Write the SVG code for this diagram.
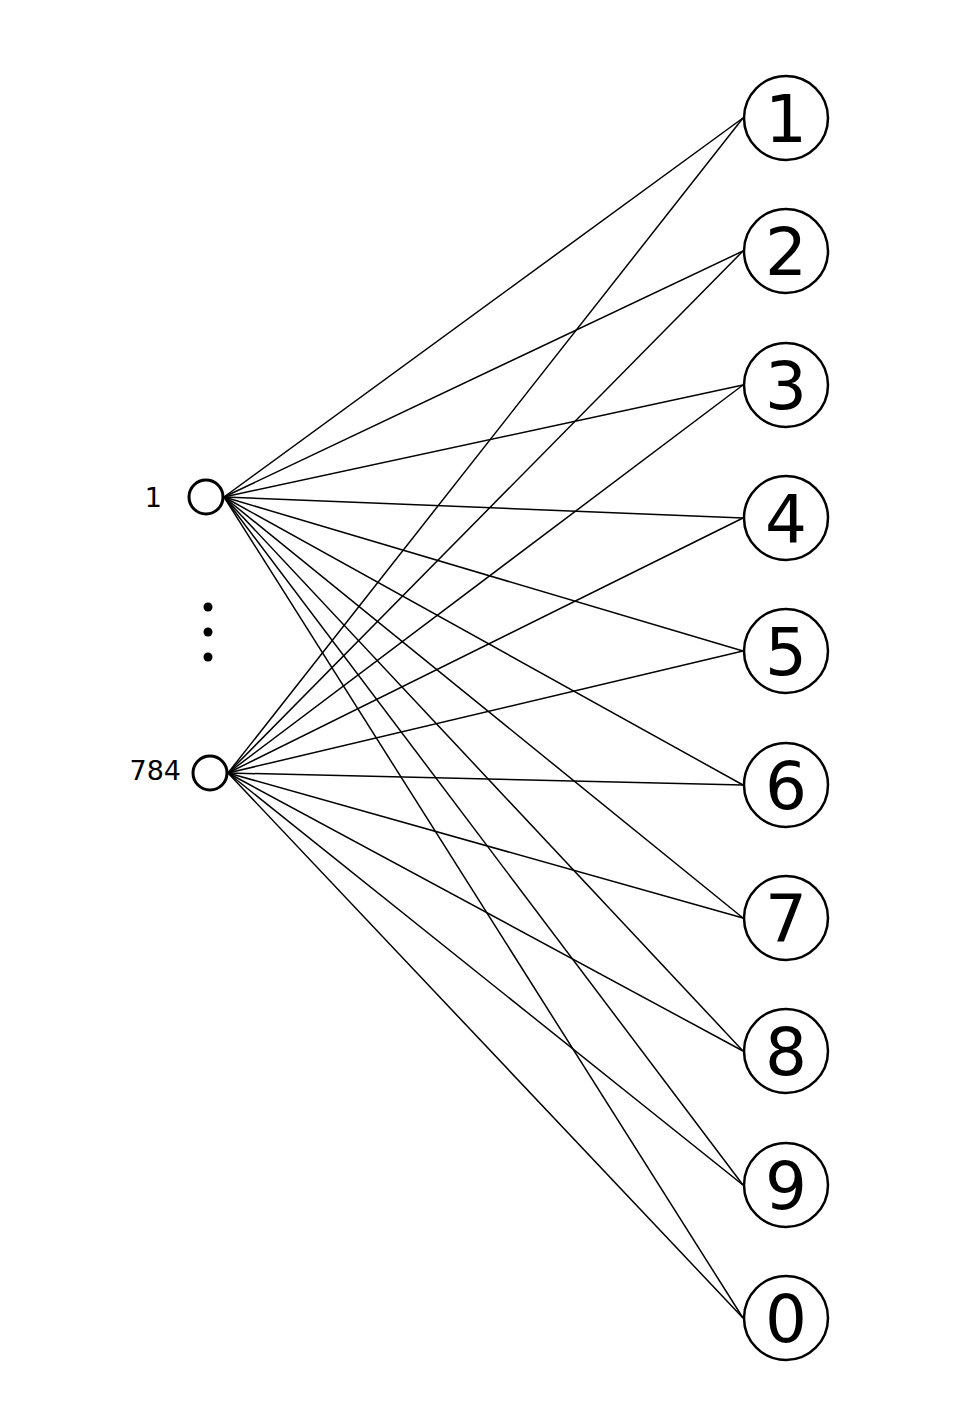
<svg xmlns="http://www.w3.org/2000/svg" width="980" height="1404" viewBox="0 0 980 1404">
<style>
.n{fill:#fff;stroke:#000;stroke-width:3}
.o{fill:#fff;stroke:#000;stroke-width:2.5}
.c line{stroke:#000;stroke-width:1.5}
.d{font-family:"DejaVu Sans",sans-serif;font-size:66px;text-anchor:middle;fill:#000}
.l{font-family:"DejaVu Sans",sans-serif;font-size:27px;text-anchor:end;fill:#000}
</style>
<rect width="980" height="1404" fill="#fff"/>
<g id="connectors" class="c">
<line x1="224" y1="497" x2="743" y2="118"/>
<line x1="224" y1="497" x2="743" y2="251"/>
<line x1="224" y1="497" x2="743" y2="385"/>
<line x1="224" y1="497" x2="743" y2="518"/>
<line x1="224" y1="497" x2="743" y2="651"/>
<line x1="224" y1="497" x2="743" y2="785"/>
<line x1="224" y1="497" x2="743" y2="918"/>
<line x1="224" y1="497" x2="743" y2="1051"/>
<line x1="224" y1="497" x2="743" y2="1185"/>
<line x1="224" y1="497" x2="743" y2="1318"/>
<line x1="228" y1="773" x2="743" y2="118"/>
<line x1="228" y1="773" x2="743" y2="251"/>
<line x1="228" y1="773" x2="743" y2="385"/>
<line x1="228" y1="773" x2="743" y2="518"/>
<line x1="228" y1="773" x2="743" y2="651"/>
<line x1="228" y1="773" x2="743" y2="785"/>
<line x1="228" y1="773" x2="743" y2="918"/>
<line x1="228" y1="773" x2="743" y2="1051"/>
<line x1="228" y1="773" x2="743" y2="1185"/>
<line x1="228" y1="773" x2="743" y2="1318"/>
</g>
<g id="in1"><circle class="n" cx="206" cy="497" r="17"/><text class="l" x="162" y="507">1</text></g>
<g id="dots"><circle cx="208" cy="607" r="4.5"/><circle cx="208" cy="632" r="4.5"/><circle cx="208" cy="657" r="4.5"/></g>
<g id="in784"><circle class="n" cx="210" cy="773" r="17"/><text class="l" x="181" y="780">784</text></g>
<g id="out1"><circle class="o" cx="786" cy="118" r="42"/><text class="d" x="786" y="142">1</text></g>
<g id="out2"><circle class="o" cx="786" cy="251" r="42"/><text class="d" x="786" y="275">2</text></g>
<g id="out3"><circle class="o" cx="786" cy="385" r="42"/><text class="d" x="786" y="409">3</text></g>
<g id="out4"><circle class="o" cx="786" cy="518" r="42"/><text class="d" x="786" y="542">4</text></g>
<g id="out5"><circle class="o" cx="786" cy="651" r="42"/><text class="d" x="786" y="675">5</text></g>
<g id="out6"><circle class="o" cx="786" cy="785" r="42"/><text class="d" x="786" y="809">6</text></g>
<g id="out7"><circle class="o" cx="786" cy="918" r="42"/><text class="d" x="786" y="942">7</text></g>
<g id="out8"><circle class="o" cx="786" cy="1051" r="42"/><text class="d" x="786" y="1075">8</text></g>
<g id="out9"><circle class="o" cx="786" cy="1185" r="42"/><text class="d" x="786" y="1209">9</text></g>
<g id="out0"><circle class="o" cx="786" cy="1318" r="42"/><text class="d" x="786" y="1342">0</text></g>
</svg>
